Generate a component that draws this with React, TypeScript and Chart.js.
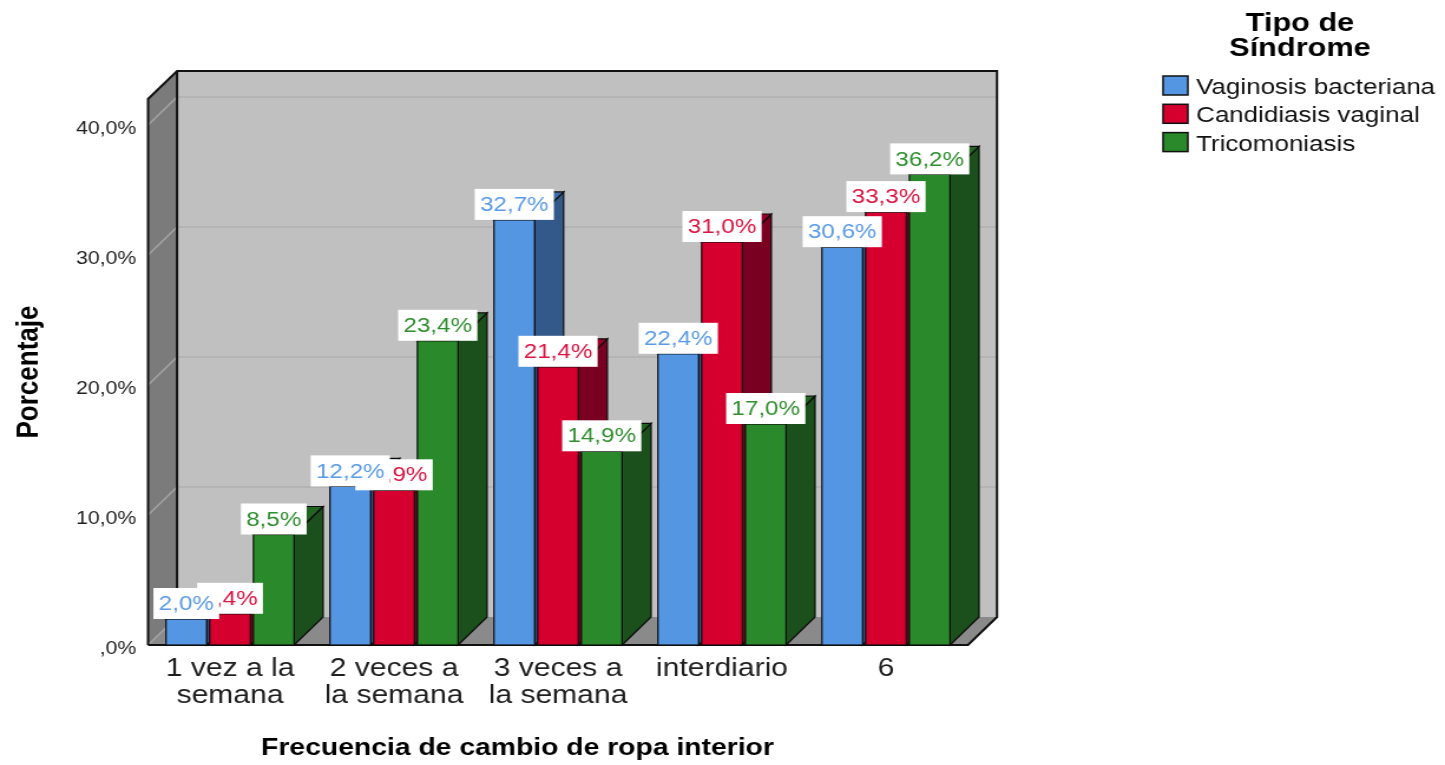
import React, { useEffect, useRef } from "react";
import { Chart, registerables } from "chart.js";

Chart.register(...registerables);

// ---- data ----
const categories: string[][] = [
  ["1 vez a la", "semana"],
  ["2 veces a", "la semana"],
  ["3 veces a", "la semana"],
  ["interdiario"],
  ["6"],
];
const seriesNames = ["Vaginosis bacteriana", "Candidiasis vaginal", "Tricomoniasis"];
const vaginosis = [2.0, 12.2, 32.7, 22.4, 30.6];
const candidiasis = [2.4, 11.9, 21.4, 31.0, 33.3];
const tricomoniasis = [8.5, 23.4, 14.9, 17.0, 36.2];
const yTickValues = [0, 10, 20, 30, 40];
const legendTitle = ["Tipo de", "Síndrome"];
const xTitle = "Frecuencia de cambio de ropa interior";
const yTitle = "Porcentaje";

// ---- styling ----
const FONT = "'Liberation Sans', Arial, sans-serif";
const fronts = ["#5596e2", "#d6002f", "#2a892a"];
const sides = ["#33588a", "#7a0021", "#1b4f1b"];
const tops = ["#3e6ca6", "#990029", "#226422"];
const labelColors = ["#5a9be6", "#dc1240", "#2f8f2f"];

// drawing surface (stretched horizontally on screen)
const W = 1225;
const H = 765;
const SCREEN_W = 1445;
const DX = 24.6; // 3D depth offset
const DY = 28;
const PLOT_LEFT = 125.5;
const PLOT_RIGHT = 820.6;
const PLOT_TOP = 99;
const X_AXIS_H = 120;
const Y_MAX = 42;

const fmtPct = (v: number) => {
  const s = v.toFixed(1).replace(".", ",");
  return (s.startsWith("0,") ? s.slice(1) : s) + "%";
};

const poly = (ctx: CanvasRenderingContext2D, pts: number[][]) => {
  ctx.beginPath();
  ctx.moveTo(pts[0][0], pts[0][1]);
  for (let i = 1; i < pts.length; i++) ctx.lineTo(pts[i][0], pts[i][1]);
  ctx.closePath();
};

// walls, floor and gridlines of the 3D box
const wallsPlugin = {
  id: "walls3d",
  beforeDatasetsDraw(chart: any) {
    const { ctx, chartArea, scales } = chart;
    const { left, right, top, bottom } = chartArea;
    const y = scales.y;
    ctx.save();
    // left wall
    poly(ctx, [[left, top], [left + DX, top - DY], [left + DX, bottom - DY], [left, bottom]]);
    ctx.fillStyle = "#7b7b7b";
    ctx.fill();
    // back wall
    ctx.fillStyle = "#c0c0c0";
    ctx.fillRect(left + DX, top - DY, right - left, bottom - top);
    // floor
    poly(ctx, [[left, bottom], [right, bottom], [right + DX, bottom - DY], [left + DX, bottom - DY]]);
    ctx.fillStyle = "#8a8a8a";
    ctx.fill();

    // gridlines
    ctx.lineWidth = 1.5;
    for (const v of yTickValues) {
      if (v === 0) continue;
      const py = y.getPixelForValue(v);
      ctx.strokeStyle = "#b1b1b1";
      ctx.beginPath();
      ctx.moveTo(left + DX, py - DY);
      ctx.lineTo(right + DX, py - DY);
      ctx.stroke();
      ctx.strokeStyle = "#a4a4a4";
      ctx.beginPath();
      ctx.moveTo(left, py);
      ctx.lineTo(left + DX, py - DY);
      ctx.stroke();
    }
    ctx.strokeStyle = "#a4a4a4";
    ctx.beginPath();
    ctx.moveTo(left, bottom);
    ctx.lineTo(left + DX, bottom - DY);
    ctx.stroke();

    // outlines
    ctx.strokeStyle = "#111";
    ctx.lineWidth = 2;
    ctx.beginPath();
    ctx.moveTo(left, bottom);
    ctx.lineTo(left, top);
    ctx.lineTo(left + DX, top - DY);
    ctx.lineTo(right + DX, top - DY);
    ctx.lineTo(right + DX, bottom - DY);
    ctx.lineTo(right, bottom);
    ctx.lineTo(left, bottom);
    ctx.stroke();
    ctx.beginPath();
    ctx.moveTo(left + DX, top - DY);
    ctx.lineTo(left + DX, bottom - DY);
    ctx.stroke();
    ctx.restore();
  },
};

// 3D bars and value labels
const barsPlugin = {
  id: "bars3d",
  afterDatasetsDraw(chart: any) {
    const { ctx } = chart;
    const nSets = chart.data.datasets.length;
    const nCats = chart.data.labels.length;
    const metas = chart.data.datasets.map((_: any, i: number) => chart.getDatasetMeta(i));
    ctx.save();
    ctx.lineJoin = "miter";
    for (let c = 0; c < nCats; c++) {
      for (let d = 0; d < nSets; d++) {
        const el = metas[d].data[c];
        const { x, y, base, width } = el.getProps(["x", "y", "base", "width"], true);
        const l = x - width / 2;
        const r = x + width / 2;
        ctx.strokeStyle = "#0c0c0c";
        ctx.lineWidth = 1.2;
        poly(ctx, [[r, base], [r + DX, base - DY], [r + DX, y - DY], [r, y]]);
        ctx.fillStyle = sides[d];
        ctx.fill();
        ctx.stroke();
        poly(ctx, [[l, y], [l + DX, y - DY], [r + DX, y - DY], [r, y]]);
        ctx.fillStyle = tops[d];
        ctx.fill();
        ctx.stroke();
        ctx.fillStyle = fronts[d];
        ctx.fillRect(l, y, width, base - y);
        ctx.strokeRect(l, y, width, base - y);
      }
    }

    ctx.font = `20.5px ${FONT}`;
    ctx.textAlign = "center";
    ctx.textBaseline = "middle";
    for (let d = nSets - 1; d >= 0; d--) {
      const values = chart.data.datasets[d].data as number[];
      for (let c = 0; c < nCats; c++) {
        const el = metas[d].data[c];
        const { x, y } = el.getProps(["x", "y"], true);
        const txt = fmtPct(values[c]);
        const bw = ctx.measureText(txt).width + 9;
        const bh = 31;
        ctx.fillStyle = "#ffffff";
        ctx.fillRect(x - bw / 2, y - bh, bw, bh);
        ctx.fillStyle = labelColors[d];
        ctx.fillText(txt, x, y - bh / 2 + 1);
      }
    }
    ctx.restore();
  },
};

// axis titles and legend
const textPlugin = {
  id: "texts",
  afterDraw(chart: any) {
    const { ctx, chartArea } = chart;
    ctx.save();
    ctx.fillStyle = "#000";
    ctx.textAlign = "center";
    ctx.textBaseline = "middle";
    ctx.font = `bold 24px ${FONT}`;
    ctx.fillText(xTitle, 438.7, 748);

    ctx.save();
    ctx.translate(24.6, (chartArea.top + chartArea.bottom) / 2);
    ctx.rotate(-Math.PI / 2);
    ctx.font = `bold 26px ${FONT}`;
    ctx.fillText(yTitle, 0, 0);
    ctx.restore();

    // legend
    ctx.textBaseline = "alphabetic";
    ctx.font = `bold 26px ${FONT}`;
    ctx.fillText(legendTitle[0], 1102, 31);
    ctx.fillText(legendTitle[1], 1102, 56);
    ctx.textAlign = "left";
    ctx.font = `22px ${FONT}`;
    chart.data.datasets.forEach((ds: any, i: number) => {
      const yTop = 76 + i * 28.3;
      ctx.fillStyle = fronts[i];
      ctx.fillRect(986, yTop, 21, 19);
      ctx.strokeStyle = "#111";
      ctx.lineWidth = 1.5;
      ctx.strokeRect(986, yTop, 21, 19);
      ctx.fillStyle = "#111";
      ctx.fillText(ds.label, 1014, yTop + 18);
    });
    ctx.restore();
  },
};

export default function App() {
  const canvasRef = useRef<HTMLCanvasElement | null>(null);

  useEffect(() => {
    const canvas = canvasRef.current;
    if (!canvas) return;
    const seriesValues = [vaginosis, candidiasis, tricomoniasis];
    const chart = new Chart(canvas, {
      type: "bar",
      data: {
        labels: categories,
        datasets: seriesNames.map((name, i) => ({
          label: name,
          data: seriesValues[i],
          backgroundColor: fronts[i],
          borderWidth: 0,
          categoryPercentage: 0.8,
          barPercentage: 0.93,
        })),
      },
      options: {
        responsive: false,
        animation: false,
        devicePixelRatio: 1,
        layout: { padding: { top: PLOT_TOP, right: W - PLOT_RIGHT, left: 0, bottom: 0 } },
        plugins: { legend: { display: false }, tooltip: { enabled: false } },
        scales: {
          x: {
            grid: { display: false, drawTicks: false },
            border: { display: false },
            ticks: {
              color: "#1e1e1e",
              font: { family: FONT, size: 25.5, lineHeight: 1.06 },
              padding: 10,
              maxRotation: 0,
              autoSkip: false,
            },
            afterFit: (s: any) => {
              s.height = X_AXIS_H;
            },
          },
          y: {
            min: 0,
            max: Y_MAX,
            grid: { display: false, drawTicks: false },
            border: { display: false },
            afterBuildTicks: (s: any) => {
              s.ticks = yTickValues.map((value) => ({ value }));
            },
            ticks: {
              color: "#1e1e1e",
              font: { family: FONT, size: 18 },
              padding: 10,
              labelOffset: 4,
              callback: (v: any) => fmtPct(Number(v)),
            },
            afterFit: (s: any) => {
              s.width = PLOT_LEFT;
            },
          },
        },
      },
      plugins: [wallsPlugin, barsPlugin, textPlugin],
    } as any);
    return () => chart.destroy();
  }, []);

  return (
    <div style={{ position: "absolute", left: 0, top: 0, width: SCREEN_W, height: H, background: "#fff" }}>
      <canvas
        ref={canvasRef}
        width={W}
        height={H}
        style={{ width: `${SCREEN_W}px`, height: `${H}px`, display: "block" }}
      />
    </div>
  );
}
